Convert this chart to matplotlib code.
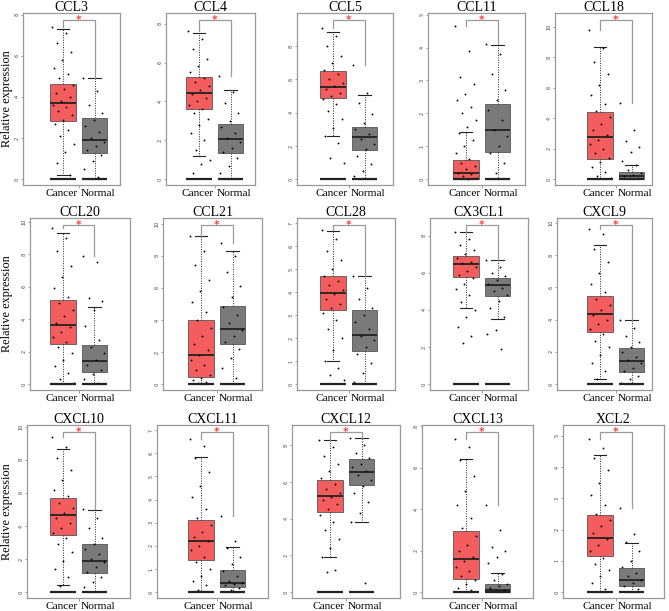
import matplotlib.pyplot as plt
import matplotlib.transforms as mtransforms
import numpy as np

plt.rcParams['font.family'] = ['Liberation Serif', 'DejaVu Serif']

genes = ["CCL3", "CCL4", "CCL5", "CCL11", "CCL18",
         "CCL20", "CCL21", "CCL28", "CX3CL1", "CXCL9",
         "CXCL10", "CXCL11", "CXCL12", "CXCL13", "XCL2"]
groups = ["Cancer", "Normal"]

# box stats: (whisker low, q1, median, q3, whisker high)
cancer_stats = [(0.19, 2.83, 3.72, 4.64, 7.30), (1.20, 3.61, 4.43, 5.25, 7.52),
                (2.61, 4.86, 5.55, 6.49, 8.86), (0.00, 0.00, 0.18, 0.59, 1.43),
                (0.00, 1.32, 2.74, 4.43, 8.66), (0.00, 2.45, 3.65, 5.18, 9.33),
                (0.00, 0.43, 1.81, 3.97, 9.22), (1.02, 3.22, 3.95, 4.69, 6.66),
                (4.09, 5.77, 6.47, 6.88, 8.20), (0.31, 3.22, 4.36, 5.44, 8.65),
                (0.41, 3.47, 4.67, 5.68, 8.62), (0.07, 1.38, 2.19, 3.13, 5.84),
                (1.94, 4.35, 5.26, 6.08, 8.31), (0.00, 0.65, 1.62, 2.97, 6.41),
                (0.00, 1.15, 1.74, 2.45, 4.38)]
normal_stats = [(0.00, 1.29, 1.89, 2.99, 4.90), (0.00, 1.37, 2.08, 2.85, 4.60),
                (0.00, 1.73, 2.51, 3.14, 5.05), (0.00, 0.83, 1.49, 2.29, 4.09),
                (0.00, 0.02, 0.18, 0.46, 0.90), (0.00, 0.76, 1.41, 2.43, 4.78),
                (0.00, 2.53, 3.42, 4.90, 8.29), (0.00, 1.43, 2.14, 3.22, 4.69),
                (3.50, 4.76, 5.32, 5.71, 6.70), (0.00, 0.73, 1.43, 2.26, 3.98),
                (0.00, 1.14, 1.89, 2.90, 4.99), (0.00, 0.23, 0.38, 0.94, 1.97),
                (3.84, 5.81, 6.54, 7.23, 8.37), (0.00, 0.00, 0.11, 0.37, 0.93),
                (0.00, 0.19, 0.38, 0.78, 1.58)]

# sample of the visible points (estimated)
cancer_pts = [
    [7.4, 7.1, 6.6, 6.2, 5.8, 5.4, 5.1, 4.9, 4.6, 4.4, 4.2, 4.0, 3.8, 3.6, 3.5, 3.3, 3.1, 2.9, 2.7, 2.4, 2.1, 1.7, 1.3, 0.8, 0.2],
    [7.6, 7.2, 6.7, 6.2, 5.8, 5.5, 5.2, 5.0, 4.8, 4.6, 4.4, 4.2, 4.0, 3.8, 3.6, 3.4, 3.1, 2.8, 2.4, 2.0, 1.5, 1.0, 0.8, 0.3],
    [9.1, 8.6, 8.0, 7.4, 7.0, 6.6, 6.3, 6.0, 5.8, 5.6, 5.4, 5.2, 5.0, 4.8, 4.5, 4.1, 3.6, 3.1, 2.6, 2.2, 1.3, 1.0],
    [4.65, 3.9, 3.1, 2.9, 2.6, 2.4, 2.2, 2.0, 1.8, 1.6, 1.4, 1.2, 1.0, 0.8, 0.6, 0.5, 0.4, 0.3, 0.2, 0.15, 0.1, 0.05, 0.02],
    [9.8, 8.6, 7.7, 6.9, 6.2, 5.5, 4.9, 4.5, 4.1, 3.6, 3.2, 2.9, 2.6, 2.3, 2.0, 1.7, 1.4, 1.1, 0.8, 0.5, 0.2, 0.05],
    [9.6, 9.0, 8.2, 7.3, 6.6, 5.9, 5.4, 5.0, 4.6, 4.2, 3.8, 3.5, 3.2, 2.9, 2.6, 2.3, 1.9, 1.5, 1.1, 0.7, 0.3, 0.1],
    [9.2, 8.3, 7.4, 6.5, 5.8, 5.1, 4.5, 4.0, 3.5, 3.0, 2.5, 2.1, 1.8, 1.5, 1.2, 0.9, 0.6, 0.4, 0.25, 0.15, 0.05],
    [6.7, 6.3, 5.8, 5.4, 5.0, 4.7, 4.5, 4.3, 4.1, 3.9, 3.7, 3.5, 3.3, 3.1, 2.8, 2.4, 2.0, 1.5, 1.0, 0.7, 0.4, 0.2],
    [8.2, 7.8, 7.5, 7.2, 7.0, 6.8, 6.6, 6.5, 6.3, 6.1, 5.9, 5.7, 5.4, 5.1, 4.8, 4.4, 4.0, 3.6, 3.1, 2.6, 2.2],
    [9.6, 9.3, 8.4, 7.6, 6.9, 6.2, 5.7, 5.3, 4.9, 4.6, 4.3, 4.0, 3.7, 3.4, 3.1, 2.7, 2.3, 1.8, 1.3, 0.8, 0.3],
    [9.4, 8.8, 8.1, 7.4, 6.8, 6.2, 5.8, 5.4, 5.1, 4.8, 4.5, 4.2, 3.9, 3.6, 3.3, 2.9, 2.4, 1.9, 1.4, 0.9, 0.4],
    [6.6, 6.3, 5.8, 5.2, 4.6, 4.1, 3.6, 3.2, 2.9, 2.6, 2.4, 2.2, 2.0, 1.8, 1.5, 1.3, 1.0, 0.7, 0.5, 0.3, 0.1],
    [8.3, 7.9, 7.4, 7.0, 6.6, 6.2, 5.9, 5.6, 5.4, 5.2, 5.0, 4.8, 4.5, 4.2, 3.8, 3.4, 2.9, 2.4, 1.9, 1.2, 1.1],
    [7.4, 7.0, 6.4, 5.6, 4.9, 4.2, 3.6, 3.1, 2.7, 2.3, 2.0, 1.7, 1.5, 1.2, 1.0, 0.8, 0.6, 0.4, 0.2, 0.1],
    [4.9, 4.6, 4.3, 3.9, 3.5, 3.1, 2.8, 2.5, 2.3, 2.1, 1.9, 1.7, 1.5, 1.3, 1.1, 0.9, 0.7, 0.5, 0.3, 0.1],
]
normal_pts = [
    [4.9, 4.3, 3.6, 3.2, 2.9, 2.6, 2.3, 2.0, 1.8, 1.6, 1.4, 1.2, 0.9, 0.5, 0.1],
    [5.3, 4.5, 3.9, 3.4, 3.0, 2.7, 2.4, 2.1, 1.9, 1.6, 1.4, 1.1, 0.7, 0.3],
    [6.9, 5.2, 4.6, 3.9, 3.4, 3.0, 2.7, 2.4, 2.1, 1.8, 1.4, 0.9, 0.5, 0.2],
    [4.1, 3.8, 3.2, 2.7, 2.4, 2.1, 1.8, 1.5, 1.3, 1.0, 0.8, 0.5, 0.2],
    [5.0, 3.2, 2.5, 2.1, 1.8, 1.2, 0.9, 0.6, 0.4, 0.3, 0.2, 0.1, 0.05],
    [7.9, 7.5, 5.3, 5.1, 4.6, 3.6, 2.7, 2.3, 1.9, 1.5, 1.2, 0.9, 0.6, 0.3, 0.1],
    [8.8, 8.0, 7.0, 6.1, 5.4, 4.8, 4.3, 3.8, 3.4, 3.0, 2.6, 2.2, 1.6, 1.0, 0.4],
    [4.7, 4.2, 3.7, 3.3, 3.0, 2.7, 2.4, 2.1, 1.9, 1.6, 1.3, 0.9, 0.5, 0.1],
    [6.7, 6.3, 6.0, 5.8, 5.6, 5.4, 5.2, 5.0, 4.8, 4.5, 4.1, 3.6, 2.9, 2.7, 1.9],
    [4.0, 3.5, 3.0, 2.6, 2.3, 2.0, 1.7, 1.5, 1.3, 1.0, 0.8, 0.5, 0.3, 0.1],
    [5.0, 4.5, 3.9, 3.3, 2.9, 2.6, 2.3, 2.0, 1.8, 1.5, 1.2, 0.9, 0.6, 0.3],
    [3.3, 2.2, 1.9, 1.5, 1.2, 0.9, 0.7, 0.5, 0.4, 0.35, 0.3, 0.2, 0.1],
    [8.4, 8.0, 7.6, 7.3, 7.0, 6.8, 6.6, 6.4, 6.1, 5.8, 5.4, 4.9, 4.3, 3.8, 0.5],
    [4.2, 3.0, 2.2, 2.0, 1.7, 1.4, 0.9, 0.6, 0.4, 0.3, 0.2, 0.1, 0.05],
    [2.7, 1.85, 1.6, 1.3, 1.0, 0.8, 0.6, 0.5, 0.4, 0.3, 0.2, 0.1],
]

y_top = [8.08, 8.55, 10.0, 5.05, 10.9, 10.24, 10.35, 7.22, 8.95, 10.3, 10.1, 7.22, 9.1, 8.07, 5.34]
y_step = [2, 2, 2, 1, 2, 2, 2, 1, 2, 2, 2, 1, 2, 2, 1]
y_max_tick = [8, 8, 8, 5, 10, 10, 10, 7, 8, 10, 10, 7, 8, 8, 5]

# layout in pixels: frame left, right, cancer box centre
cols_px = [[(23, 120, 63), (166, 255, 199), (297, 393, 333), (428, 525, 466), (555, 652, 600)],
           [(30, 130, 63), (163, 262, 201), (297, 395, 333), (430, 528, 466), (557, 652, 600)],
           [(27, 130, 63), (157, 268, 201), (292, 400, 330), (422, 533, 466), (563, 664, 600)]]
rows_px = [(13, 185), (218, 390), (425, 598)]
W, H = 669, 611
unit = 31.5  # px between the two boxes

red = "#F45D5D"
grey = "#7A7A7A"

fig = plt.figure(figsize=(W / 100, H / 100), dpi=100)

for k, gene in enumerate(genes):
    r, c = divmod(k, 5)
    L, R, cx = cols_px[r][c]
    top, bot = rows_px[r]
    ax = fig.add_axes([L / W, 1 - bot / H, (R - L) / W, (bot - top) / H])
    ax.set_xlim(1 - (cx - L) / unit, 1 + (R - cx) / unit)
    ax.set_ylim(-0.035 * y_top[k], y_top[k])

    stats = []
    for st in [cancer_stats[k], normal_stats[k]]:
        lo, q1, med, q3, hi = st
        stats.append(dict(whislo=lo, q1=q1, med=med, q3=q3, whishi=hi, fliers=[]))
    bp = ax.bxp(stats, positions=[1, 2], widths=0.8, capwidths=0.4, patch_artist=True,
                showfliers=False,
                whiskerprops=dict(linestyle=(0, (1, 1.5)), color='#222', lw=0.7),
                capprops=dict(color='#222', lw=0.8),
                medianprops=dict(color='#222', lw=1.3),
                boxprops=dict(lw=0.6))
    for patch, col in zip(bp['boxes'], [red, grey]):
        patch.set_facecolor(col)
        patch.set_edgecolor('#555')

    for pos, pts in zip([1, 2], [cancer_pts[k], normal_pts[k]]):
        pts = np.array(pts)
        n = len(pts)
        jit = ((np.arange(n) * 0.618034) % 1 - 0.5) * 0.7
        ax.scatter(pos + jit, pts, s=1.8, color='black', linewidths=0, zorder=3)
        ax.hlines(0, pos - 0.4, pos + 0.4, color='#222', lw=1.6, zorder=4)

    # significance bracket
    yb = y_top[k] - 0.04 * y_top[k] * 1.035
    m1 = max(cancer_pts[k])
    m2 = max(normal_pts[k])
    ax.plot([1, 1, 2, 2], [m1, yb, yb, m2], color='#9A9A9A', lw=0.9, zorder=2)
    ax.text(1.5, yb, '*', color='red', fontsize=8, ha='center', va='center',
            family='DejaVu Sans', zorder=5)

    ticks = np.arange(0, y_max_tick[k] + 0.1, y_step[k])
    ax.set_yticks(ticks)
    ax.set_yticklabels([str(int(t)) for t in ticks], rotation=90, va='center',
                       family='DejaVu Sans')
    ax.tick_params(axis='y', labelsize=3.5, length=1.5, width=0.5, color='#777',
                   labelcolor='#444', pad=1)
    ax.set_xticks([1.5])
    ax.set_xticklabels([''])
    ax.tick_params(axis='x', length=2.5, width=0.5, color='#777')
    for sp in ax.spines.values():
        sp.set_color('#999')
        sp.set_linewidth(0.9)

    trans = mtransforms.blended_transform_factory(ax.transData, ax.transAxes)
    ax.text(0.94, -0.025, groups[0], transform=trans, ha='center', va='top', fontsize=8.2)
    ax.text(2.1, -0.025, groups[1], transform=trans, ha='center', va='top', fontsize=8.2)
    fig.text((L + R) / 2 / W, 1 - (top - 2) / H, gene, ha='center',
             va='baseline', fontsize=10)

    if c == 0:
        fig.text(7 / W, 1 - (top + bot) / 2 / H, 'Relative expression', rotation=90,
                 ha='center', va='center', fontsize=8.8)

fig.savefig('out.png', dpi=100)
